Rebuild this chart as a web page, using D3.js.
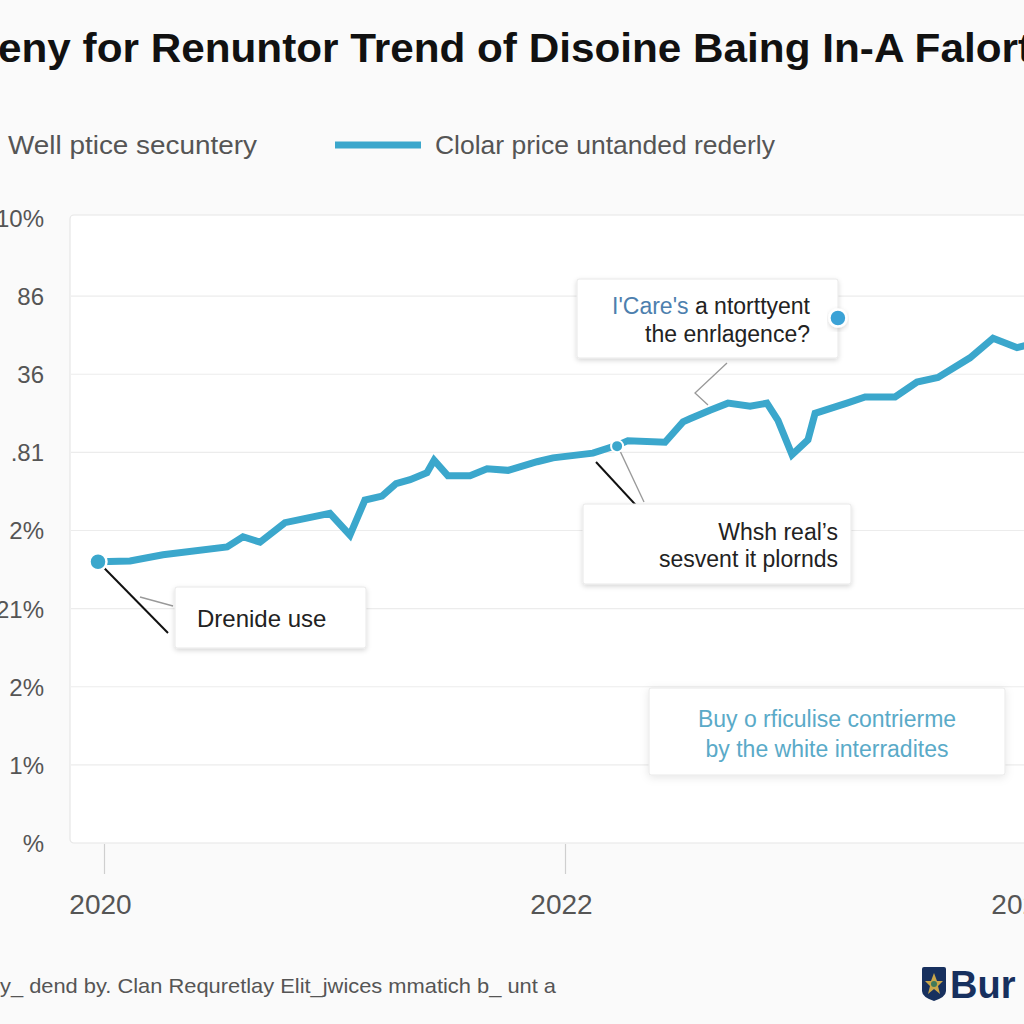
<!DOCTYPE html>
<html>
<head>
<meta charset="utf-8">
<script src="https://cdn.jsdelivr.net/npm/d3@7"></script>
<style>
  html, body { margin: 0; padding: 0; background: #fafafa; }
  svg { display: block; font-family: "Liberation Sans", Arial, sans-serif; }
</style>
</head>
<body>
<svg id="chart" width="1024" height="1024"></svg>
<script>
// ---------------- data ----------------
const titleText = "eny for Renuntor Trend of Disoine Baing In-A Falort";
const legendLabels = ["Well ptice secuntery", "Clolar price untanded rederly"];
const yTickValues = [0, 1, 2, 3, 4, 5, 6, 7, 8];
const yTickLabels = ["%", "1%", "2%", "21%", "2%", ".81", "36", "86", "110%"];
const xTickValues = [2020, 2022, 2024];
const xTickLabels = ["2020", "2022", "2024"];

const seriesYears = [
  2019.974, 2020.113, 2020.256, 2020.534, 2020.603, 2020.677, 2020.785, 2020.980,
  2021.067, 2021.132, 2021.206, 2021.267, 2021.328, 2021.401, 2021.432, 2021.492,
  2021.588, 2021.662, 2021.753, 2021.879, 2021.948, 2022.121, 2022.226, 2022.273,
  2022.434, 2022.512, 2022.542, 2022.629, 2022.707, 2022.803, 2022.876, 2022.924,
  2022.985, 2023.054, 2023.085, 2023.223, 2023.302, 2023.432, 2023.527, 2023.618,
  2023.757, 2023.857, 2023.961, 2024.030
];
const seriesValues = [
  3.60, 3.61, 3.69, 3.79, 3.92, 3.85, 4.10, 4.22,
  3.94, 4.39, 4.44, 4.60, 4.65, 4.74, 4.90, 4.70,
  4.70, 4.79, 4.77, 4.88, 4.93, 4.99, 5.09, 5.15,
  5.13, 5.39, 5.43, 5.54, 5.63, 5.59, 5.63, 5.41,
  4.97, 5.16, 5.50, 5.63, 5.71, 5.71, 5.90, 5.96,
  6.21, 6.46, 6.34, 6.39
];

// annotated points: [year, value]
const markerYears = [2019.974, 2022.226, 2023.184];
const markerValues = [3.60, 5.08, 6.72];
const markerSizes = ["big", "small", "big"];

const annotationLines = [
  ["Drenide use"],
  ["I'Care's", " a ntorttyent", "the enrlagence?"],
  ["Whsh real\u2019s", "sesvent it plornds"],
  ["Buy o rficulise contrierme", "by the white interradites"]
];
const footerText = "y_ dend by. Clan Requretlay Elit_jwices mmatich b_ unt a";
const logoText = "Bur";

// ---------------- layout ----------------
const svg = d3.select("#chart");
const lineColor = "#3ba7cc";

const x = d3.scaleLinear().domain([2020, 2024]).range([104, 1026]);
const y = d3.scaleLinear().domain([0, 8]).range([843, 218]);

const defs = svg.append("defs");
const sh = defs.append("filter").attr("id", "shadow").attr("x", "-10%").attr("y", "-20%").attr("width", "120%").attr("height", "150%");
sh.append("feDropShadow").attr("dx", 0).attr("dy", 2).attr("stdDeviation", 2.5).attr("flood-color", "#000").attr("flood-opacity", 0.16);
const sh2 = defs.append("filter").attr("id", "shadow2").attr("x", "-10%").attr("y", "-20%").attr("width", "120%").attr("height", "150%");
sh2.append("feDropShadow").attr("dx", 0).attr("dy", 2).attr("stdDeviation", 4).attr("flood-color", "#000").attr("flood-opacity", 0.10);

// Title
svg.append("text")
  .attr("x", -2).attr("y", 62)
  .attr("font-size", 40).attr("font-weight", "bold").attr("fill", "#111")
  .attr("textLength", 1034).attr("lengthAdjust", "spacingAndGlyphs")
  .text(titleText);

// Legend
svg.append("text").attr("x", 8).attr("y", 154).attr("font-size", 26).attr("fill", "#555")
  .attr("textLength", 249).attr("lengthAdjust", "spacingAndGlyphs")
  .text(legendLabels[0]);
svg.append("line").attr("x1", 335).attr("x2", 421).attr("y1", 145).attr("y2", 145)
  .attr("stroke", lineColor).attr("stroke-width", 7);
svg.append("text").attr("x", 435).attr("y", 154).attr("font-size", 26).attr("fill", "#555")
  .attr("textLength", 340).attr("lengthAdjust", "spacingAndGlyphs")
  .text(legendLabels[1]);

// Plot panel
svg.append("rect").attr("x", 70).attr("y", 215).attr("width", 1000).attr("height", 628)
  .attr("rx", 4).attr("fill", "#fff").attr("stroke", "#e6e6e6").attr("stroke-width", 1.2);

// Grid lines
svg.append("g").selectAll("line").data(yTickValues.slice(1, -1)).join("line")
  .attr("x1", 71).attr("x2", 1024).attr("y1", d => y(d)).attr("y2", d => y(d))
  .attr("stroke", "#ececec").attr("stroke-width", 1.2);

// Y axis labels
const yAxis = d3.axisLeft(y).tickValues(yTickValues).tickSize(0)
  .tickFormat((d, i) => yTickLabels[i]);
const gy = svg.append("g").attr("transform", "translate(48,0)").call(yAxis);
gy.select(".domain").remove();
gy.selectAll("text").attr("font-size", 24).attr("fill", "#555")
  .attr("font-family", "Liberation Sans, Arial, sans-serif").attr("dy", "0.35em").attr("x", -4);

// X axis
const xAxis = d3.axisBottom(x).tickValues(xTickValues).tickSize(30)
  .tickFormat((d, i) => xTickLabels[i]);
const gx = svg.append("g").attr("transform", "translate(0,844)").call(xAxis);
gx.select(".domain").remove();
gx.selectAll(".tick line").attr("stroke", "#cfcfcf").attr("stroke-width", 1.2);
gx.selectAll("text").attr("font-size", 28).attr("fill", "#555")
  .attr("font-family", "Liberation Sans, Arial, sans-serif").attr("y", 50).attr("dx", "-4");

// Series line
const pts = seriesYears.map((d, i) => [d, seriesValues[i]]);
const line = d3.line().x(d => x(d[0])).y(d => y(d[1]));
svg.append("path").datum(pts).attr("d", line)
  .attr("fill", "none").attr("stroke", lineColor).attr("stroke-width", 7)
  .attr("stroke-linejoin", "miter").attr("stroke-linecap", "butt");

// Callout connectors
const m0 = [x(markerYears[0]), y(markerValues[0])];
const m1 = [x(markerYears[1]), y(markerValues[1])];
svg.append("line").attr("x1", m0[0] + 2).attr("y1", m0[1] + 2).attr("x2", 168).attr("y2", 633)
  .attr("stroke", "#111").attr("stroke-width", 2);
svg.append("polyline").attr("points", `140,597 173,606`)
  .attr("fill", "none").attr("stroke", "#999").attr("stroke-width", 1.3);
svg.append("line").attr("x1", 596).attr("y1", 462).attr("x2", 657).attr("y2", 528)
  .attr("stroke", "#111").attr("stroke-width", 2);
svg.append("line").attr("x1", m1[0] + 3).attr("y1", m1[1] + 5).attr("x2", 644).attr("y2", 502)
  .attr("stroke", "#999").attr("stroke-width", 1.3);
svg.append("polyline").attr("points", "727,363 695,393 708,405")
  .attr("fill", "none").attr("stroke", "#999").attr("stroke-width", 1.3);

// Annotation boxes
function box(x0, y0, w, h, filt) {
  svg.append("rect").attr("x", x0).attr("y", y0).attr("width", w).attr("height", h)
    .attr("rx", 2).attr("fill", "#fff").attr("stroke", "#e8e8e8").attr("stroke-width", 1)
    .attr("filter", filt);
}
box(175, 587, 191, 61, "url(#shadow)");
svg.append("text").attr("x", 197).attr("y", 627).attr("font-size", 24).attr("fill", "#222")
  .text(annotationLines[0][0]);

box(577, 279, 261, 79, "url(#shadow)");
const t1 = svg.append("text").attr("x", 810).attr("y", 314).attr("font-size", 23)
  .attr("text-anchor", "end").attr("fill", "#222");
t1.append("tspan").attr("fill", "#4d7fae").text(annotationLines[1][0]);
t1.append("tspan").text(annotationLines[1][1]);
svg.append("text").attr("x", 810).attr("y", 342).attr("font-size", 23)
  .attr("text-anchor", "end").attr("fill", "#222").text(annotationLines[1][2]);

box(583, 504, 268, 80, "url(#shadow)");
svg.append("text").attr("x", 838).attr("y", 540).attr("font-size", 23)
  .attr("text-anchor", "end").attr("fill", "#222").text(annotationLines[2][0]);
svg.append("text").attr("x", 838).attr("y", 567).attr("font-size", 23)
  .attr("text-anchor", "end").attr("fill", "#222").text(annotationLines[2][1]);

box(649, 688, 356, 87, "url(#shadow2)");
svg.append("text").attr("x", 827).attr("y", 727).attr("font-size", 23)
  .attr("text-anchor", "middle").attr("fill", "#5aaac8").text(annotationLines[3][0]);
svg.append("text").attr("x", 827).attr("y", 757).attr("font-size", 23)
  .attr("text-anchor", "middle").attr("fill", "#5aaac8").text(annotationLines[3][1]);

// Markers (on top of boxes)
svg.append("g").selectAll("circle").data(markerYears).join("circle")
  .attr("cx", (d) => x(d)).attr("cy", (d, i) => y(markerValues[i]))
  .attr("r", (d, i) => markerSizes[i] === "big" ? 8.5 : 6)
  .attr("fill", (d, i) => i === 2 ? "#3aa2d6" : lineColor)
  .attr("stroke", "#fff").attr("stroke-width", (d, i) => i === 1 ? 2 : 2.5)
  .attr("filter", (d, i) => i === 2 ? "url(#shadow)" : null);

// Footer
svg.append("text").attr("x", 0).attr("y", 993).attr("font-size", 21).attr("fill", "#555")
  .attr("textLength", 556).attr("lengthAdjust", "spacingAndGlyphs")
  .text(footerText);

// Logo
const logo = svg.append("g").attr("transform", "translate(922,967)");
logo.append("path").attr("d", "M2,0 H22 Q24,0 24,2 V24 Q24,30 12,34 Q0,30 0,24 V2 Q0,0 2,0 Z").attr("fill", "#17305e");
logo.append("path").attr("d", "M12,6 L15,14 L21,14 L16,19 L18,27 L12,22 L6,27 L8,19 L3,14 L9,14 Z").attr("fill", "#c9a64a");
logo.append("circle").attr("cx", 12).attr("cy", 17).attr("r", 3).attr("fill", "#3f7a5a");
svg.append("text").attr("x", 950).attr("y", 998).attr("font-size", 38).attr("font-weight", "bold")
  .attr("fill", "#17305e").text(logoText);
</script>
</body>
</html>
